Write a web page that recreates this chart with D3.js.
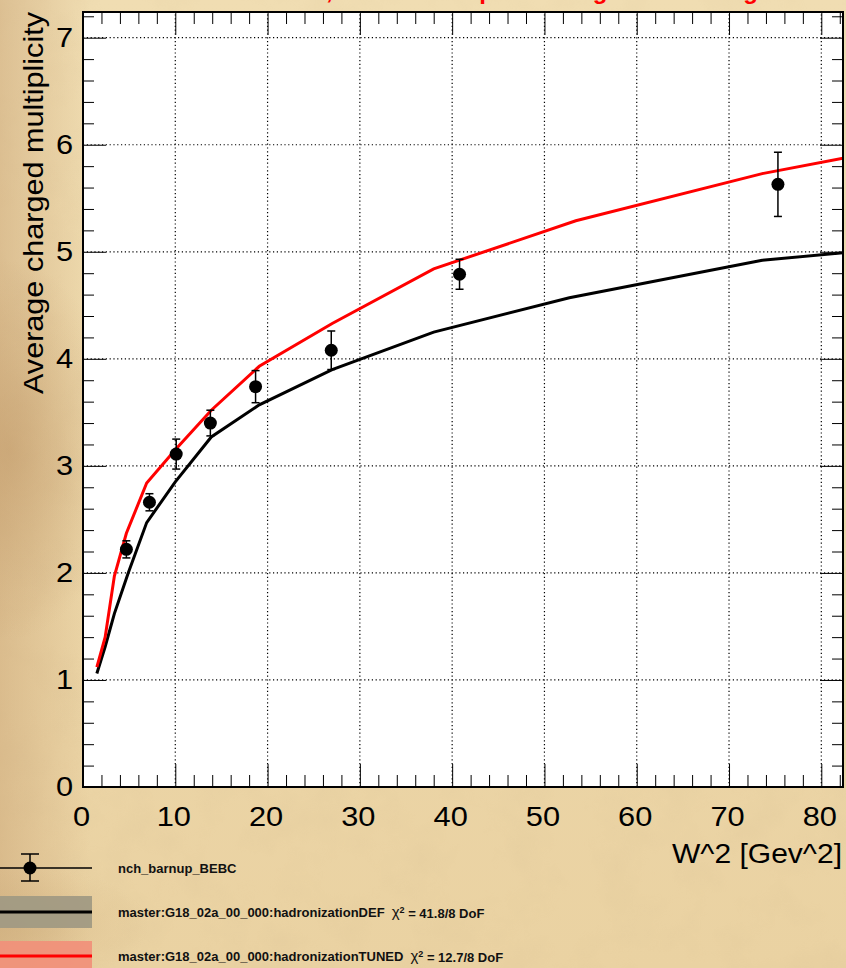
<!DOCTYPE html>
<meta charset="utf-8">
<html>
  <head>
    <style>
      body { margin: 0; }
      svg { display: block; }
      text { font-family: "Liberation Sans", Arial, Helvetica, sans-serif; }
      .axis text { font-size: 28px; fill: #000; }
      .axis line { stroke: #000; stroke-width: 1px; }
      .grid line { stroke: #000; stroke-width: 1.2px; stroke-dasharray: 1.2,2.6; }
      .leg { font-size: 13px; font-weight: bold; fill: #111; }
    </style>
    <script src="https://d3js.org/d3.v7.min.js"></script>
  </head>
  <body>
    <script>

      var width = 846,
	  height = 968;

      // data: BEBC points
      var dataW2 = [4.7, 7.2, 10.1, 13.8, 18.7, 26.9, 40.8, 75.3];
      var dataNch = [2.22, 2.66, 3.11, 3.40, 3.74, 4.08, 4.79, 5.63];
      var dataErr = [0.08, 0.08, 0.14, 0.12, 0.15, 0.18, 0.14, 0.30];

      // model curves
      var defW2 = [1.5, 2.4, 3.4, 4.9, 6.9, 10.0, 13.9, 19.1, 27.0, 38.0, 52.7, 73.6, 82.35];
      var defNch = [1.06, 1.31, 1.62, 2.00, 2.47, 2.85, 3.27, 3.57, 3.90, 4.25, 4.57, 4.92, 4.99];
      var tunedW2 = [1.5, 2.4, 3.4, 4.7, 6.9, 10.0, 13.9, 19.1, 27.0, 38.0, 53.4, 73.6, 82.35];
      var tunedNch = [1.12, 1.40, 1.97, 2.37, 2.84, 3.15, 3.52, 3.93, 4.33, 4.84, 5.29, 5.73, 5.875];

      var xMajor = [0, 10, 20, 30, 40, 50, 60, 70, 80];
      var yMajor = [0, 1, 2, 3, 4, 5, 6, 7];

      var legendLabels = ["nch_barnup_BEBC",
			  "master:G18_02a_00_000:hadronizationDEF",
			  "master:G18_02a_00_000:hadronizationTUNED"];
      var legendChi = ["", "41.8/8 DoF", "12.7/8 DoF"];

      var titleText = "BEBC data, \u03bd CC on the proton target and tuning";

      var svg = d3.select('body').append('svg')
	  .attr('width', width)
	  .attr('height', height);

      var defs = svg.append('defs');

      // parchment look
      var bg = defs.append('linearGradient').attr('id', 'bgGrad')
	  .attr('x1', 0).attr('y1', 0).attr('x2', 0).attr('y2', 1);
      bg.append('stop').attr('offset', '0%').attr('stop-color', '#f0ddb2');
      bg.append('stop').attr('offset', '55%').attr('stop-color', '#ecd6a8');
      bg.append('stop').attr('offset', '100%').attr('stop-color', '#ead2a2');

      var edge = defs.append('linearGradient').attr('id', 'edgeGrad')
	  .attr('x1', 0).attr('y1', 0).attr('x2', 1).attr('y2', 0);
      edge.append('stop').attr('offset', '0%').attr('stop-color', '#c9a374').attr('stop-opacity', 0.5);
      edge.append('stop').attr('offset', '100%').attr('stop-color', '#c9a374').attr('stop-opacity', 0);

      function blotch(id, color, op) {
	  var g = defs.append('radialGradient').attr('id', id);
	  g.append('stop').attr('offset', '0%').attr('stop-color', color).attr('stop-opacity', op);
	  g.append('stop').attr('offset', '100%').attr('stop-color', color).attr('stop-opacity', 0);
      }
      blotch('blLeft', '#b88d5c', 0.45);
      blotch('blLow', '#c9a877', 0.45);

      var noise = defs.append('filter').attr('id', 'paper')
	  .attr('x', 0).attr('y', 0).attr('width', '100%').attr('height', '100%');
      noise.append('feTurbulence').attr('type', 'fractalNoise')
	  .attr('baseFrequency', 0.02).attr('numOctaves', 4).attr('seed', 3);
      noise.append('feColorMatrix').attr('type', 'matrix')
	  .attr('values', '0 0 0 0 0.60  0 0 0 0 0.45  0 0 0 0 0.25  0 0 0 -1.2 0.7');

      svg.append('rect').attr('width', width).attr('height', height).attr('fill', 'url(#bgGrad)');
      svg.append('rect').attr('width', width).attr('height', height)
	  .attr('filter', 'url(#paper)').attr('opacity', 0.18);
      svg.append('rect').attr('width', 90).attr('height', height).attr('fill', 'url(#edgeGrad)');
      svg.append('ellipse').attr('cx', 10).attr('cy', 450).attr('rx', 110).attr('ry', 190).attr('fill', 'url(#blLeft)');
      svg.append('ellipse').attr('cx', 10).attr('cy', 925).attr('rx', 140).attr('ry', 60).attr('fill', 'url(#blLow)');

      // title, mostly above the canvas
      svg.append('text')
	  .attr('x', 202).attr('y', -1)
	  .style('font-size', '24px').style('font-weight', 'bold')
	  .attr('fill', '#ff0000')
	  .text(titleText);

      // plot frame
      var x = d3.scaleLinear().domain([0, 82.35]).range([83, 843]);
      var y = d3.scaleLinear().domain([0, 7.24]).range([787, 12]);

      svg.append('rect')
	  .attr('x', x(0)).attr('y', y(7.24))
	  .attr('width', x(82.35) - x(0)).attr('height', y(0) - y(7.24))
	  .attr('fill', '#fff');

      defs.append('clipPath').attr('id', 'plotClip')
	  .append('rect')
	  .attr('x', x(0)).attr('y', y(7.24))
	  .attr('width', x(82.35) - x(0)).attr('height', y(0) - y(7.24));

      // grid
      var grid = svg.append('g').attr('class', 'grid');
      grid.selectAll('.gx').data(xMajor.filter(function(d) { return d > 0; }))
	  .enter().append('line')
	  .attr('x1', function(d) { return x(d); }).attr('x2', function(d) { return x(d); })
	  .attr('y1', y(0)).attr('y2', y(7.24));
      grid.selectAll('.gy').data(yMajor.filter(function(d) { return d > 0; }))
	  .enter().append('line')
	  .attr('y1', function(d) { return y(d); }).attr('y2', function(d) { return y(d); })
	  .attr('x1', x(0)).attr('x2', x(82.35));

      // axes with inward ticks
      var xMinor = d3.range(0, 83, 2).filter(function(d) { return d % 10 !== 0; });
      var yMinor = d3.range(0, 7.21, 0.2).filter(function(d) { return Math.abs(d - Math.round(d)) > 0.01; });

      function addAxis(axis, tx, ty, labels) {
	  var g = svg.append('g').attr('class', 'axis')
	      .attr('transform', 'translate(' + tx + ',' + ty + ')')
	      .call(axis);
	  g.select('.domain').remove();
	  if (!labels) g.selectAll('text').remove();
	  return g;
      }

      var xAx = addAxis(d3.axisBottom(x).tickValues(xMajor).tickSize(-23).tickPadding(19).tickFormat(d3.format('d')), 0, y(0), true);
      xAx.selectAll('text').attr('transform', 'translate(-2,0) scale(1.1,1)');
      addAxis(d3.axisBottom(x).tickValues(xMinor).tickSize(-12), 0, y(0), false);
      addAxis(d3.axisTop(x).tickValues(xMajor).tickSize(-23), 0, y(7.24), false);
      addAxis(d3.axisTop(x).tickValues(xMinor).tickSize(-12), 0, y(7.24), false);
      var yAx = addAxis(d3.axisLeft(y).tickValues(yMajor).tickSize(-23).tickPadding(9).tickFormat(d3.format('d')), x(0), 0, true);
      yAx.selectAll('text').attr('transform', 'scale(1.1,1)');
      addAxis(d3.axisLeft(y).tickValues(yMinor).tickSize(-11), x(0), 0, false);
      addAxis(d3.axisRight(y).tickValues(yMajor).tickSize(-23), x(82.35), 0, false);
      addAxis(d3.axisRight(y).tickValues(yMinor).tickSize(-11), x(82.35), 0, false);

      // curves
      var line = d3.line()
	  .x(function(d) { return x(d[0]); })
	  .y(function(d) { return y(d[1]); });

      var curves = svg.append('g').attr('clip-path', 'url(#plotClip)');
      curves.append('path')
	  .datum(d3.zip(defW2, defNch))
	  .attr('d', line)
	  .attr('fill', 'none').attr('stroke', '#000').attr('stroke-width', 3);
      curves.append('path')
	  .datum(d3.zip(tunedW2, tunedNch))
	  .attr('d', line)
	  .attr('fill', 'none').attr('stroke', '#ff0000').attr('stroke-width', 3);

      // data points
      var pts = svg.append('g').selectAll('g')
	  .data(d3.zip(dataW2, dataNch, dataErr))
	  .enter().append('g');
      pts.append('line')
	  .attr('x1', function(d) { return x(d[0]); }).attr('x2', function(d) { return x(d[0]); })
	  .attr('y1', function(d) { return y(d[1] - d[2]); }).attr('y2', function(d) { return y(d[1] + d[2]); })
	  .attr('stroke', '#000').attr('stroke-width', 1.5);
      [-1, 1].forEach(function(s) {
	  pts.append('line')
	      .attr('x1', function(d) { return x(d[0]) - 4; }).attr('x2', function(d) { return x(d[0]) + 4; })
	      .attr('y1', function(d) { return y(d[1] + s * d[2]); }).attr('y2', function(d) { return y(d[1] + s * d[2]); })
	      .attr('stroke', '#000').attr('stroke-width', 1.5);
      });
      pts.append('circle')
	  .attr('cx', function(d) { return x(d[0]); })
	  .attr('cy', function(d) { return y(d[1]); })
	  .attr('r', 6.5).attr('fill', '#000');

      // frame on top
      svg.append('rect')
	  .attr('x', x(0)).attr('y', y(7.24))
	  .attr('width', x(82.35) - x(0)).attr('height', y(0) - y(7.24))
	  .attr('fill', 'none').attr('stroke', '#000').attr('stroke-width', 2);

      // axis titles
      svg.append('text')
	  .attr('x', 842).attr('y', 863)
	  .attr('text-anchor', 'end')
	  .attr('textLength', 170).attr('lengthAdjust', 'spacingAndGlyphs')
	  .style('font-size', '28px')
	  .text('W^2 [Gev^2]');

      svg.append('text')
	  .attr('transform', 'translate(43,12) rotate(-90)')
	  .attr('text-anchor', 'end')
	  .attr('textLength', 382).attr('lengthAdjust', 'spacingAndGlyphs')
	  .style('font-size', '28px')
	  .text('Average charged multiplicity');

      // legend
      var rowY = [868, 912, 956];

      svg.append('line').attr('x1', 0).attr('x2', 92).attr('y1', rowY[0]).attr('y2', rowY[0])
	  .attr('stroke', '#000').attr('stroke-width', 1.5);
      svg.append('line').attr('x1', 30).attr('x2', 30).attr('y1', rowY[0] - 14).attr('y2', rowY[0] + 13)
	  .attr('stroke', '#000').attr('stroke-width', 1.5);
      [rowY[0] - 14, rowY[0] + 13].forEach(function(v) {
	  svg.append('line').attr('x1', 21).attr('x2', 39).attr('y1', v).attr('y2', v)
	      .attr('stroke', '#000').attr('stroke-width', 1.5);
      });
      svg.append('circle').attr('cx', 30).attr('cy', rowY[0]).attr('r', 6.5).attr('fill', '#000');

      svg.append('rect').attr('x', 0).attr('y', 896).attr('width', 92).attr('height', 32)
	  .attr('fill', '#a19a83').attr('opacity', 0.95);
      svg.append('line').attr('x1', 0).attr('x2', 92).attr('y1', rowY[1]).attr('y2', rowY[1])
	  .attr('stroke', '#000').attr('stroke-width', 3);

      svg.append('rect').attr('x', 0).attr('y', 941).attr('width', 92).attr('height', 30)
	  .attr('fill', '#f0917a').attr('opacity', 0.95);
      svg.append('line').attr('x1', 0).attr('x2', 92).attr('y1', rowY[2]).attr('y2', rowY[2])
	  .attr('stroke', '#ff0000').attr('stroke-width', 3);

      legendLabels.forEach(function(lab, i) {
	  var t = svg.append('text').attr('class', 'leg')
	      .attr('x', 118).attr('y', rowY[i]).attr('dy', '0.36em');
	  t.append('tspan').text(lab);
	  if (legendChi[i]) {
	      t.append('tspan').attr('dx', 7).style('font-weight', 'normal').style('font-size', '15px').text('\u03c7');
	      t.append('tspan').attr('dy', '-0.45em').style('font-size', '9px').text('2');
	      t.append('tspan').attr('dy', '0.45em').text(' = ' + legendChi[i]);
	  }
      });

    </script>
  </body>
</html>
